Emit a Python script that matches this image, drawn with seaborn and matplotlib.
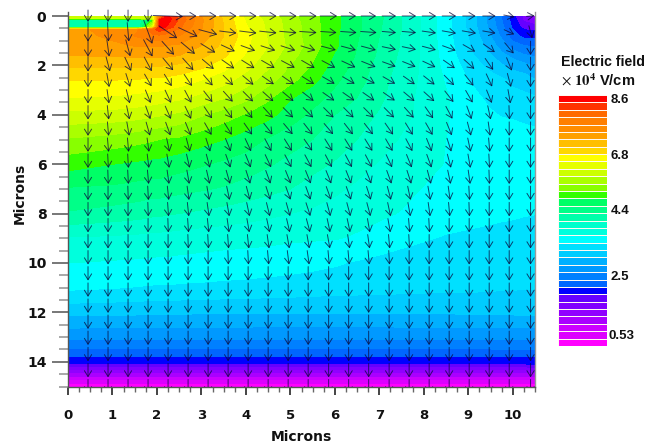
# plot.py
# Electric field map with arrows, colour bands

import numpy as np
import matplotlib
matplotlib.use("Agg")
import matplotlib.pyplot as plt
from matplotlib.patches import Rectangle, FancyArrowPatch
import seaborn as sns

# colour bands, lowest first
band_colors = ["#ff00ff", "#dd00ff", "#cc00ff", "#aa00ff", "#9000ff", "#8000ff", "#6600ff",
               "#0000ff", "#0066ff", "#0080ff", "#0099ff", "#00b0ff", "#00ccff", "#00e0ff",
               "#00ffff", "#00ffdd", "#00ffcc", "#00ffaa", "#00ff88", "#00ff66", "#33ff00",
               "#88ff00", "#aaff00", "#ccff00", "#e6ff00", "#ffff00", "#ffd700", "#ffbf00",
               "#ffa000", "#ff8c00", "#ff7f00", "#ff6a00", "#ff3300", "#ff0000"]
band_labels = ["8.6", "6.8", "4.4", "2.5", "0.53"]
band_label_rows = [0.7, 8.2, 15.7, 24.6, 32.7]

x_knots = [0, 1, 1.6, 1.9, 2.05, 2.2, 2.5, 3, 3.5, 4, 4.5, 5, 5.5, 6, 6.5, 7, 7.5, 8, 8.5, 9,
           9.5, 9.75, 10, 10.25, 10.5]
y_knots = [0, 0.1, 0.15, 0.45, 0.55, 0.8, 1.2, 1.6, 2, 2.6, 3.3, 4, 5, 6, 7, 8, 9, 10, 11, 12,
           13, 13.5, 13.8, 14.05, 14.5, 15]

# field as colour band number, one row per y knot
field_bands = [
    [24, 24, 24, 24, 30, 33.5, 31.5, 29, 26.7, 24.8, 23.6, 22.4, 21.3, 20.3, 19.2, 18.2, 17, 15.8, 14.4, 12.8, 10.5, 9, 7.5, 5.7, 4.5],
    [23, 23, 23, 24, 31, 33.8, 31.8, 29.1, 26.8, 24.8, 23.6, 22.4, 21.3, 20.3, 19.2, 18.2, 17, 15.8, 14.4, 12.8, 10.6, 9, 7.5, 5.8, 4.8],
    [17.5, 17.5, 17.5, 20, 33, 33.8, 31.8, 29.2, 26.9, 24.9, 23.7, 22.5, 21.3, 20.3, 19.2, 18.2, 17, 15.8, 14.4, 12.8, 10.6, 9, 7.6, 5.8, 5.2],
    [17.5, 17.5, 17.5, 24, 33.2, 33, 31.2, 29.1, 27, 25.1, 23.8, 22.6, 21.4, 20.3, 19.2, 18.1, 17, 15.8, 14.4, 12.8, 10.7, 9.3, 7.8, 6.6, 6.4],
    [28.9, 29.1, 30, 31.5, 32.5, 32, 30.8, 29, 27, 25.2, 23.8, 22.6, 21.4, 20.2, 19.2, 18.1, 17, 15.8, 14.4, 12.9, 10.8, 9.4, 8, 7, 6.8],
    [28.6, 29.2, 30.2, 30.8, 30.8, 30.6, 30, 28.7, 27, 25.4, 23.9, 22.6, 21.4, 20.2, 19.1, 18, 16.9, 15.8, 14.4, 13, 11, 9.8, 8.4, 7.7, 7.6],
    [28.4, 28.8, 29.1, 29.1, 29.1, 29, 28.8, 28, 26.7, 25.2, 24, 22.7, 21.5, 20.2, 19, 17.9, 16.9, 15.8, 14.5, 13.1, 11.5, 10.5, 9.5, 9, 8.9],
    [28, 28.1, 28.2, 28.2, 28.2, 28.2, 28, 27.3, 26.2, 24.9, 23.6, 22.4, 21.2, 19.9, 18.9, 17.8, 16.8, 15.8, 14.6, 13.3, 12.1, 11.3, 10.7, 10.1, 9.9],
    [27.2, 27.2, 27.2, 27.1, 27.1, 27, 26.8, 26.3, 25.4, 24.4, 23.2, 22, 20.9, 19.6, 18.7, 17.6, 16.7, 15.8, 14.7, 13.6, 12.7, 12.1, 11.6, 11.3, 10.8],
    [26, 26, 25.9, 25.8, 25.8, 25.7, 25.5, 25, 24.4, 23.5, 22.4, 21.3, 20.3, 19.2, 18.4, 17.4, 16.5, 15.8, 14.9, 14, 13.4, 13.2, 12.8, 12.6, 12.1],
    [25, 24.9, 24.7, 24.6, 24.5, 24.4, 24.2, 23.7, 23.1, 22.3, 21.2, 20.1, 19.4, 18.7, 18, 17.2, 16.4, 15.7, 15.1, 14.3, 13.8, 13.4, 13.3, 13.2, 13.1],
    [23.7, 23.6, 23.4, 23.2, 23.1, 23, 22.8, 22.1, 21.5, 20.9, 20.3, 19.5, 18.8, 18, 17.4, 16.9, 16.3, 15.7, 15.1, 14.5, 14.1, 13.95, 13.9, 13.8, 13.7],
    [21.9, 21.6, 21.3, 21.1, 21, 20.9, 20.8, 20.4, 20, 19.5, 18.9, 18.4, 18, 17.5, 17, 16.5, 15.9, 15.5, 15, 14.8, 14.6, 14.5, 14.4, 14.35, 14.3],
    [20.4, 20, 19.8, 19.7, 19.7, 19.6, 19.4, 19.1, 18.8, 18.5, 18.1, 17.7, 17.3, 16.9, 16.4, 15.9, 15.6, 15.3, 14.95, 14.7, 14.5, 14.45, 14.4, 14.35, 14.3],
    [18.9, 18.8, 18.6, 18.5, 18.5, 18.4, 18.3, 18.1, 17.9, 17.6, 17.3, 17, 16.6, 16.2, 15.8, 15.5, 15.25, 14.95, 14.7, 14.5, 14.35, 14.3, 14.25, 14.2, 14.2],
    [17.9, 17.6, 17.4, 17.2, 17.2, 17.1, 17, 16.8, 16.6, 16.4, 16.2, 16, 15.8, 15.55, 15.3, 15.15, 14.95, 14.75, 14.5, 14.35, 14.2, 14.15, 14.1, 14.05, 14.02],
    [15.9, 15.8, 15.7, 15.65, 15.6, 15.6, 15.5, 15.4, 15.35, 15.3, 15.25, 15.15, 15.1, 15.05, 14.9, 14.65, 14.35, 14.1, 13.9, 13.8, 13.75, 13.7, 13.7, 13.65, 13.6],
    [15, 14.9, 14.85, 14.8, 14.8, 14.8, 14.75, 14.7, 14.6, 14.55, 14.45, 14.35, 14.25, 14.1, 13.9, 13.7, 13.5, 13.4, 13.3, 13.25, 13.2, 13.2, 13.2, 13.15, 13.1],
    [14.2, 14.05, 13.95, 13.9, 13.9, 13.9, 13.85, 13.8, 13.75, 13.7, 13.65, 13.6, 13.5, 13.45, 13.4, 13.35, 13.3, 13.25, 13.2, 13.2, 13.15, 13.1, 13.1, 13.05, 13.05],
    [12.3, 12.25, 12.2, 12.2, 12.2, 12.15, 12.15, 12.1, 12.1, 12.1, 12.05, 12.05, 12.05, 12.05, 12.05, 12.05, 12.1, 12.1, 12.1, 12.15, 12.15, 12.2, 12.2, 12.25, 12.25],
    [10.25, 10.25, 10.25, 10.25, 10.25, 10.25, 10.25, 10.25, 10.25, 10.25, 10.25, 10.25, 10.25, 10.25, 10.25, 10.25, 10.25, 10.25, 10.25, 10.25, 10.25, 10.25, 10.25, 10.25, 10.25],
    [8.85, 8.85, 8.85, 8.85, 8.85, 8.85, 8.85, 8.85, 8.85, 8.85, 8.85, 8.85, 8.85, 8.85, 8.85, 8.9, 8.9, 8.9, 8.9, 8.95, 8.95, 9, 9, 9, 9],
    [8, 8, 8, 8, 8, 8, 8, 8, 8, 8, 8, 8, 8, 8, 8, 8, 8, 8, 8, 8, 8, 7.95, 7.95, 7.9, 7.9],
    [7, 7, 7, 7, 7, 7, 7, 7, 7, 7, 7, 7, 7, 7, 7, 7, 7, 7, 7, 7.1, 7.1, 7.2, 7.2, 7.3, 7.4],
    [3.6, 3.6, 3.6, 3.6, 3.6, 3.6, 3.6, 3.6, 3.6, 3.6, 3.6, 3.6, 3.6, 3.6, 3.6, 3.6, 3.6, 3.6, 3.6, 3.6, 3.6, 3.6, 3.6, 3.6, 3.6],
    [0.3, 0.3, 0.3, 0.3, 0.3, 0.3, 0.3, 0.3, 0.3, 0.3, 0.3, 0.3, 0.3, 0.3, 0.3, 0.3, 0.3, 0.3, 0.3, 0.3, 0.3, 0.3, 0.3, 0.3, 0.3],
]

arrow_x = [0.45, 0.9, 1.35, 1.8, 2.25, 2.7, 3.15, 3.6, 4.05, 4.5, 4.95, 5.4, 5.86, 6.31, 6.76,
           7.22, 7.67, 8.12, 8.57, 9.02, 9.47, 9.92, 10.4]
arrow_y = [0, 0.65, 1.3, 1.95, 2.6, 3.26, 3.91, 4.57, 5.22, 5.87, 6.52, 7.17, 7.83, 8.48, 9.13,
           9.78, 10.43, 11.09, 11.74, 12.39, 13.04, 13.7, 14.35, 15]

# direction of the arrows in degrees, 0 is straight down, 90 is to the right
arrow_angle = [
    [0, 0, 0, 0, 88, 90, 90, 90, 90, 90, 90, 90, 90, 90, 90, 90, 90, 90, 90, 90, 90, 80, 95],
    [0, 3, 5, 20, 56, 65, 75, 83, 83, 84, 85, 86, 86, 86, 86, 85, 85, 82, 80, 80, 80, 65, 15],
    [0, 8, 15, 28, 42, 50, 58, 65, 70, 72, 72, 73, 75, 75, 75, 78, 78, 75, 70, 60, 55, 40, 0],
    [0, 15, 25, 28, 40, 42, 50, 55, 58, 60, 62, 60, 62, 65, 68, 70, 68, 65, 55, 48, 35, 22, 0],
    [0, 10, 18, 30, 32, 34, 41, 45, 50, 55, 55, 58, 60, 60, 62, 60, 55, 52, 45, 38, 25, 15, 0],
    [0, 8, 14, 22, 25, 28, 38, 42, 45, 48, 50, 52, 55, 55, 55, 55, 50, 48, 38, 30, 22, 10, 0],
    [0, 6, 12, 20, 24, 26, 34, 36, 38, 42, 45, 45, 45, 45, 45, 45, 42, 35, 28, 20, 12, 2, 0],
    [0, 5, 10, 16, 20, 22, 30, 32, 35, 38, 40, 38, 40, 38, 38, 35, 32, 30, 22, 15, 8, 0, 0],
    [0, 5, 5, 8, 12, 15, 18, 22, 25, 28, 32, 35, 32, 32, 32, 30, 28, 22, 18, 12, 5, 0, 0],
    [0, 3, 3, 7, 10, 13, 15, 20, 22, 25, 28, 28, 28, 28, 28, 25, 22, 20, 15, 10, 3, 0, 0],
    [0, 2, 3, 5, 8, 10, 13, 16, 18, 20, 22, 22, 22, 22, 22, 20, 18, 15, 12, 8, 2, 0, 0],
    [0, 0, 2, 3, 6, 8, 10, 12, 15, 18, 20, 20, 20, 20, 18, 15, 12, 10, 8, 3, 0, 0, 0],
    [0, 0, 0, 2, 4, 6, 8, 10, 12, 14, 16, 18, 15, 15, 15, 12, 10, 8, 5, 2, 0, 0, 0],
    [0, 0, 0, 0, 2, 4, 6, 8, 10, 12, 13, 15, 12, 12, 10, 10, 5, 3, 0, 0, 0, 0, 0],
    [0, 0, 0, 0, 0, 2, 3, 4, 6, 8, 10, 10, 10, 8, 8, 5, 3, 0, 0, 0, 0, 0, 0],
    [0, 0, 0, 0, 0, 0, 0, 2, 3, 5, 7, 8, 5, 5, 5, 3, 0, 0, 0, 0, 0, 0, 0],
]
# arrow length in pixels of the first rows, the rest are all the same
arrow_length_top = [
    [12, 12, 12, 12, 30, 17, 17, 17, 17, 17, 17, 17, 17, 15, 15, 14, 14, 14, 14, 13, 13, 11, 8],
    [19, 19, 19, 25, 22, 21, 19, 17, 17, 17, 17, 17, 16, 16, 16, 14, 14, 14, 14, 14, 13, 11, 13],
    [17, 17, 17, 19, 18, 18, 17, 15, 15, 15, 15, 15, 15, 15, 15, 14, 14, 14, 14, 14, 14, 14, 14],
    [15, 15, 15, 16, 16, 16, 15, 15, 15, 15, 15, 15, 15, 15, 15, 14, 14, 14, 14, 14, 14, 14, 14],
]
arrow_length = 14

sns.set_theme(style="white")
plt.rcParams["font.family"] = ["DejaVu Sans"]
plt.rcParams["mathtext.fontset"] = "stix"

W, H = 660, 443
ax_w, ax_h = 467, 370.5
fig = plt.figure(figsize=(W / 100, H / 100), dpi=100)
ax = fig.add_axes([68 / W, 1 - 386.5 / H, ax_w / W, ax_h / H])

# field
levels = np.arange(0, len(band_colors) + 1)
ax.contourf(x_knots, y_knots, np.array(field_bands), levels=levels, colors=band_colors)

ax.set_xlim(0, 10.5)
ax.set_ylim(15, 0)

# arrows with open heads, centred on their grid point
angle = np.zeros((len(arrow_y), len(arrow_x)))
angle[:len(arrow_angle)] = np.deg2rad(arrow_angle)
length = np.full(angle.shape, float(arrow_length))
length[:len(arrow_length_top)] = arrow_length_top
# the top row pokes out above the frame, the bottom row is cut at it
arrow_clip = Rectangle((-1, -1), 12.5, 16, transform=ax.transData)
for i, y in enumerate(arrow_y):
    for j, x in enumerate(arrow_x):
        dx = length[i, j] * np.sin(angle[i, j]) / (ax_w / 10.5)
        dy = length[i, j] * np.cos(angle[i, j]) / (ax_h / 15)
        arrow = FancyArrowPatch((x - dx / 2, y - dy / 2), (x + dx / 2, y + dy / 2),
                                arrowstyle="->,head_length=0.42,head_width=0.26",
                                mutation_scale=10, lw=0.7, color="#0a0a3c", alpha=0.75,
                                shrinkA=0, shrinkB=0, zorder=3)
        ax.add_patch(arrow)
        arrow.set_clip_path(arrow_clip)

ax.set_xticks(np.arange(0, 11))
ax.set_xticks(np.arange(0, 10.51, 0.25), minor=True)
ax.set_yticks(np.arange(0, 15, 2))
ax.set_yticks(np.arange(0, 15.01, 0.5), minor=True)
ax.tick_params(axis="x", which="major", length=6, width=1.4, color="#444444", pad=10, bottom=True,
               labelsize=9.5, labelcolor="#111111")
ax.tick_params(axis="x", which="minor", length=3.5, width=1, color="#666666", bottom=True)
ax.tick_params(axis="y", which="major", length=11.5, width=1.4, color="#777777", pad=4, left=True,
               labelsize=10, labelcolor="#111111")
ax.tick_params(axis="y", which="minor", length=6.5, width=1.2, color="#999999", left=True)
for lab in ax.get_xticklabels() + ax.get_yticklabels():
    lab.set_fontweight("bold")
ax.set_xlabel("Microns", fontweight="bold", fontsize=10, color="#111111", labelpad=6)
ax.set_ylabel("Microns", fontweight="bold", fontsize=10, color="#111111", labelpad=0.5, y=0.52)

for name in ["left", "right", "bottom"]:
    ax.spines[name].set_visible(True)
    ax.spines[name].set_color("#555555")
    ax.spines[name].set_linewidth(1.0)
ax.spines["left"].set_bounds(-0.15, 15)
ax.spines["right"].set_bounds(-0.15, 15)
ax.spines["right"].set_color("#999999")
ax.spines["top"].set_visible(False)

# colour bar as a one column heatmap, highest band on top
cax = fig.add_axes([558 / W, 1 - 346 / H, 49 / W, 251 / H])
bands = np.arange(len(band_colors))[::-1].reshape(-1, 1)
sns.heatmap(bands, ax=cax, cmap=sns.color_palette(band_colors, as_cmap=True), cbar=False,
            linewidths=0.7, linecolor="#fff8f0", xticklabels=False, yticklabels=False)
for lab, row in zip(band_labels, band_label_rows):
    cax.text(1.07 if lab != "0.53" else 1.03, row, lab, fontsize=9.5, fontweight="bold",
             family="Liberation Sans", va="center", ha="left", color="#111111", clip_on=False)

fig.text(561 / W, 1 - 62 / H, "Electric field", fontsize=10.2, fontweight="bold",
         family="Liberation Sans", va="center", color="#111111")
fig.text(561 / W, 1 - 80 / H, r"$\times$ $\mathbf{10^4}$ V/cm", fontsize=10.5, fontweight="bold",
         family="Liberation Sans", va="center", color="#111111")

fig.savefig("out.png", dpi=100)
